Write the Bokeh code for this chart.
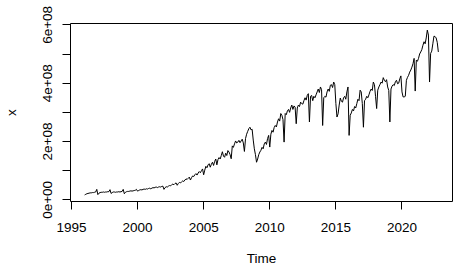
from bokeh.plotting import figure
from bokeh.models import Range1d, FixedTicker, ColumnDataSource
from bokeh.embed import file_html
from bokeh.resources import INLINE

# Monthly series (units of 1e8), ts(start=1996, frequency=12)
start_year = 1996
frequency = 12
y1996 = [0.17, 0.19, 0.21, 0.22, 0.23, 0.24, 0.24, 0.25, 0.25, 0.26, 0.27, 0.36]
y1997 = [0.18, 0.23, 0.25, 0.26, 0.26, 0.27, 0.26, 0.27, 0.27, 0.28, 0.28, 0.35]
y1998 = [0.22, 0.25, 0.27, 0.27, 0.26, 0.27, 0.27, 0.28, 0.27, 0.28, 0.29, 0.36]
y1999 = [0.21, 0.26, 0.28, 0.29, 0.29, 0.30, 0.31, 0.30, 0.31, 0.32, 0.33, 0.36]
y2000 = [0.30, 0.32, 0.34, 0.35, 0.34, 0.36, 0.37, 0.36, 0.38, 0.37, 0.39, 0.40]
y2001 = [0.38, 0.40, 0.42, 0.41, 0.43, 0.44, 0.42, 0.44, 0.45, 0.44, 0.46, 0.47]
y2002 = [0.36, 0.42, 0.45, 0.44, 0.47, 0.49, 0.48, 0.52, 0.54, 0.52, 0.56, 0.58]
y2003 = [0.50, 0.56, 0.60, 0.58, 0.62, 0.65, 0.63, 0.68, 0.72, 0.70, 0.74, 0.78]
y2004 = [0.68, 0.76, 0.82, 0.80, 0.86, 0.90, 0.85, 0.92, 0.97, 0.93, 1.00, 1.06]
y2005 = [0.86, 1.02, 1.15, 1.10, 1.20, 1.24, 1.12, 1.22, 1.29, 1.18, 1.32, 1.40]
y2006 = [1.20, 1.38, 1.45, 1.40, 1.52, 1.65, 1.50, 1.46, 1.60, 1.52, 1.69, 1.64]
y2007 = [1.55, 1.41, 1.85, 1.80, 1.92, 2.02, 1.95, 1.98, 2.04, 1.96, 2.02, 2.08]
y2008 = [1.95, 1.66, 2.10, 2.25, 2.35, 2.44, 2.49, 2.40, 2.42, 2.05, 1.75, 1.55]
y2009 = [1.29, 1.40, 1.55, 1.64, 1.70, 1.80, 1.75, 1.92, 1.98, 1.90, 2.10, 2.21]
y2010 = [1.81, 2.25, 2.38, 2.32, 2.48, 2.55, 2.50, 2.67, 2.78, 2.70, 2.96, 2.90]
y2011 = [2.75, 1.98, 2.96, 2.92, 3.05, 3.10, 3.00, 3.15, 3.25, 3.10, 3.22, 3.18]
y2012 = [2.61, 3.15, 3.25, 3.20, 3.35, 3.30, 3.28, 3.40, 3.50, 3.42, 3.58, 3.64]
y2013 = [2.67, 3.55, 3.58, 3.40, 3.55, 3.50, 3.60, 3.70, 3.80, 3.68, 3.87, 3.78]
y2014 = [2.55, 3.50, 3.55, 3.52, 3.70, 3.80, 3.72, 3.93, 3.95, 3.85, 4.04, 3.95]
y2015 = [3.30, 2.84, 2.95, 3.25, 3.49, 3.38, 3.35, 3.50, 3.55, 3.45, 3.70, 3.87]
y2016 = [2.21, 2.90, 2.98, 3.10, 3.05, 3.20, 3.15, 3.30, 3.45, 3.40, 3.76, 3.70]
y2017 = [3.30, 2.49, 3.40, 3.45, 3.55, 3.50, 3.60, 3.72, 3.80, 3.75, 4.04, 3.95]
y2018 = [3.55, 3.13, 3.76, 3.87, 3.95, 4.04, 4.00, 4.19, 4.10, 4.05, 4.12, 3.87]
y2019 = [3.75, 2.67, 3.80, 3.90, 3.95, 3.92, 4.05, 4.10, 3.98, 4.00, 4.15, 4.25]
y2020 = [3.70, 3.53, 3.53, 3.55, 4.10, 4.20, 4.27, 4.38, 4.45, 4.55, 4.67, 4.85]
y2021 = [3.73, 4.79, 4.75, 4.85, 5.00, 5.07, 5.15, 5.30, 5.42, 5.35, 5.55, 5.82]
y2022 = [5.65, 4.04, 5.02, 5.10, 5.35, 5.61, 5.60, 5.55, 5.40, 5.07]

x_ticks = [1995, 2000, 2005, 2010, 2015, 2020]
y_ticks = [0, 1e8, 2e8, 3e8, 4e8, 5e8, 6e8]
y_tick_labels = ["0e+00", "", "2e+08", "", "4e+08", "", "6e+08"]

years = [y1996, y1997, y1998, y1999, y2000, y2001, y2002, y2003, y2004, y2005,
         y2006, y2007, y2008, y2009, y2010, y2011, y2012, y2013, y2014, y2015,
         y2016, y2017, y2018, y2019, y2020, y2021, y2022]
vals = [v * 1e8 for yr in years for v in yr]
t = [start_year + i / frequency for i in range(len(vals))]

# R-style 4% range extension
xr = max(t) - min(t)
yr_ = max(vals) - min(vals)
x_range = Range1d(min(t) - 0.04 * xr, max(t) + 0.04 * xr)
y_range = Range1d(min(vals) - 0.04 * yr_, max(vals) + 0.04 * yr_)

p = figure(width=458, height=268, output_backend="svg", toolbar_location=None,
           x_range=x_range, y_range=y_range,
           min_border_left=65, min_border_right=6, min_border_top=23, min_border_bottom=67,
           background_fill_color="white", border_fill_color="white")
p.grid.visible = False
p.outline_line_color = "black"
p.outline_line_width = 1
p.outline_line_alpha = 1

src = ColumnDataSource(dict(t=t, v=vals))
p.line("t", "v", source=src, line_color="black", line_width=1)

font = "Liberation Sans"
for ax in (p.xaxis[0], p.yaxis[0]):
    ax.major_tick_in = 0
    ax.major_tick_out = 8
    ax.minor_tick_line_color = None
    ax.axis_line_color = "black"
    ax.major_tick_line_color = "black"
    ax.major_label_text_font = font
    ax.major_label_text_font_size = "13.5px"
    ax.major_label_text_color = "black"
    ax.axis_label_text_font = font
    ax.axis_label_text_font_size = "13.5px"
    ax.axis_label_text_font_style = "normal"
    ax.axis_label_text_color = "black"

p.xaxis.ticker = FixedTicker(ticks=x_ticks)
p.xaxis.major_label_overrides = {float(k): str(k) for k in x_ticks}
p.xaxis.bounds = (x_ticks[0], x_ticks[-1])
p.xaxis.axis_label = "Time"
p.xaxis.major_label_standoff = 13
p.xaxis.axis_label_standoff = 16

p.yaxis.ticker = FixedTicker(ticks=y_ticks)
p.yaxis.major_label_overrides = {float(k): lab for k, lab in zip(y_ticks, y_tick_labels)}
p.yaxis.bounds = (y_ticks[0], y_ticks[-1])
p.yaxis.major_label_orientation = "vertical"
p.yaxis.axis_label = "x"
p.yaxis.major_label_standoff = 10
p.yaxis.axis_label_standoff = 22

open("out.html", "w").write(file_html(p, INLINE))
